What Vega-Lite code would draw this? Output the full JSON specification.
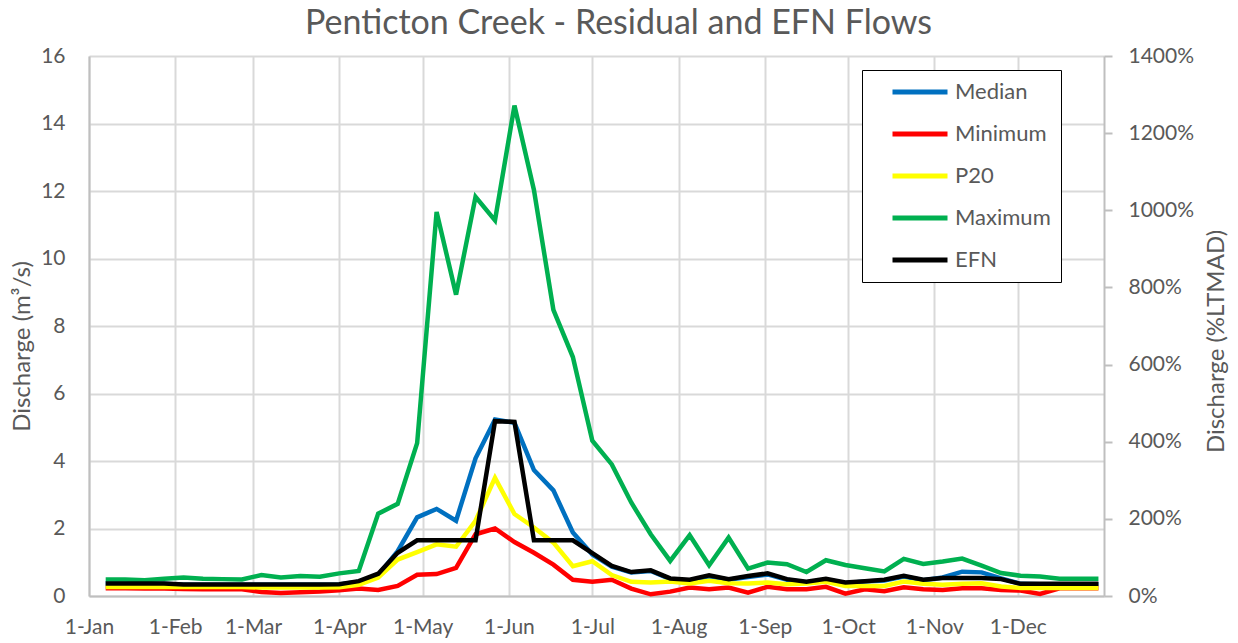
{
  "$schema": "https://vega.github.io/schema/vega-lite/v6.json",
  "width": 1015,
  "height": 540,
  "autosize": {"type": "none"},
  "padding": {"left": 89, "top": 56, "right": 134, "bottom": 47},
  "background": "white",
  "title": {"text": "Penticton Creek - Residual and EFN Flows", "font": "Lato", "fontSize": 34, "fontWeight": "normal", "color": "#595959", "anchor": "middle", "dx": 22, "dy": 46, "offset": 14, "baseline": "alphabetic"},
  "config": {"view": {"stroke": null}},
  "data": {"values": [
    {"date": "2021-01-07", "Median": 0.36, "Minimum": 0.23, "P20": 0.27, "Maximum": 0.49, "EFN": 0.37},
    {"date": "2021-01-14", "Median": 0.36, "Minimum": 0.23, "P20": 0.27, "Maximum": 0.49, "EFN": 0.37},
    {"date": "2021-01-21", "Median": 0.36, "Minimum": 0.22, "P20": 0.27, "Maximum": 0.47, "EFN": 0.37},
    {"date": "2021-01-28", "Median": 0.36, "Minimum": 0.22, "P20": 0.27, "Maximum": 0.51, "EFN": 0.37},
    {"date": "2021-02-04", "Median": 0.33, "Minimum": 0.21, "P20": 0.27, "Maximum": 0.55, "EFN": 0.34},
    {"date": "2021-02-11", "Median": 0.33, "Minimum": 0.2, "P20": 0.27, "Maximum": 0.51, "EFN": 0.34},
    {"date": "2021-02-18", "Median": 0.33, "Minimum": 0.2, "P20": 0.27, "Maximum": 0.5, "EFN": 0.34},
    {"date": "2021-02-25", "Median": 0.33, "Minimum": 0.2, "P20": 0.27, "Maximum": 0.49, "EFN": 0.34},
    {"date": "2021-03-04", "Median": 0.33, "Minimum": 0.12, "P20": 0.25, "Maximum": 0.62, "EFN": 0.34},
    {"date": "2021-03-11", "Median": 0.33, "Minimum": 0.09, "P20": 0.25, "Maximum": 0.55, "EFN": 0.34},
    {"date": "2021-03-18", "Median": 0.33, "Minimum": 0.11, "P20": 0.25, "Maximum": 0.59, "EFN": 0.34},
    {"date": "2021-03-25", "Median": 0.33, "Minimum": 0.13, "P20": 0.25, "Maximum": 0.57, "EFN": 0.34},
    {"date": "2021-04-01", "Median": 0.34, "Minimum": 0.17, "P20": 0.26, "Maximum": 0.67, "EFN": 0.35},
    {"date": "2021-04-08", "Median": 0.42, "Minimum": 0.22, "P20": 0.33, "Maximum": 0.74, "EFN": 0.44},
    {"date": "2021-04-15", "Median": 0.62, "Minimum": 0.18, "P20": 0.55, "Maximum": 2.44, "EFN": 0.66},
    {"date": "2021-04-22", "Median": 1.33, "Minimum": 0.3, "P20": 1.08, "Maximum": 2.73, "EFN": 1.28},
    {"date": "2021-04-29", "Median": 2.33, "Minimum": 0.63, "P20": 1.3, "Maximum": 4.53, "EFN": 1.65},
    {"date": "2021-05-06", "Median": 2.58, "Minimum": 0.65, "P20": 1.53, "Maximum": 11.38, "EFN": 1.65},
    {"date": "2021-05-13", "Median": 2.23, "Minimum": 0.83, "P20": 1.46, "Maximum": 8.93, "EFN": 1.65},
    {"date": "2021-05-20", "Median": 4.08, "Minimum": 1.83, "P20": 2.23, "Maximum": 11.83, "EFN": 1.65},
    {"date": "2021-05-27", "Median": 5.23, "Minimum": 2.0, "P20": 3.5, "Maximum": 11.13, "EFN": 5.18},
    {"date": "2021-06-03", "Median": 5.13, "Minimum": 1.6, "P20": 2.43, "Maximum": 14.53, "EFN": 5.16},
    {"date": "2021-06-10", "Median": 3.73, "Minimum": 1.28, "P20": 2.03, "Maximum": 12.03, "EFN": 1.65},
    {"date": "2021-06-17", "Median": 3.13, "Minimum": 0.93, "P20": 1.58, "Maximum": 8.48, "EFN": 1.65},
    {"date": "2021-06-24", "Median": 1.88, "Minimum": 0.48, "P20": 0.88, "Maximum": 7.08, "EFN": 1.65},
    {"date": "2021-07-01", "Median": 1.23, "Minimum": 0.42, "P20": 1.03, "Maximum": 4.6, "EFN": 1.27},
    {"date": "2021-07-08", "Median": 0.87, "Minimum": 0.48, "P20": 0.62, "Maximum": 3.9, "EFN": 0.89},
    {"date": "2021-07-15", "Median": 0.7, "Minimum": 0.22, "P20": 0.42, "Maximum": 2.77, "EFN": 0.71},
    {"date": "2021-07-22", "Median": 0.74, "Minimum": 0.05, "P20": 0.4, "Maximum": 1.83, "EFN": 0.76},
    {"date": "2021-07-29", "Median": 0.5, "Minimum": 0.13, "P20": 0.43, "Maximum": 1.04, "EFN": 0.52},
    {"date": "2021-08-05", "Median": 0.46, "Minimum": 0.25, "P20": 0.37, "Maximum": 1.8, "EFN": 0.48},
    {"date": "2021-08-12", "Median": 0.58, "Minimum": 0.2, "P20": 0.45, "Maximum": 0.91, "EFN": 0.61},
    {"date": "2021-08-19", "Median": 0.48, "Minimum": 0.25, "P20": 0.38, "Maximum": 1.73, "EFN": 0.5},
    {"date": "2021-08-26", "Median": 0.56, "Minimum": 0.1, "P20": 0.37, "Maximum": 0.81, "EFN": 0.59},
    {"date": "2021-09-02", "Median": 0.64, "Minimum": 0.27, "P20": 0.4, "Maximum": 0.99, "EFN": 0.67},
    {"date": "2021-09-09", "Median": 0.48, "Minimum": 0.2, "P20": 0.35, "Maximum": 0.94, "EFN": 0.5},
    {"date": "2021-09-16", "Median": 0.4, "Minimum": 0.2, "P20": 0.37, "Maximum": 0.71, "EFN": 0.42},
    {"date": "2021-09-23", "Median": 0.49, "Minimum": 0.27, "P20": 0.42, "Maximum": 1.06, "EFN": 0.51},
    {"date": "2021-09-30", "Median": 0.38, "Minimum": 0.07, "P20": 0.3, "Maximum": 0.92, "EFN": 0.4},
    {"date": "2021-10-07", "Median": 0.43, "Minimum": 0.2, "P20": 0.3, "Maximum": 0.82, "EFN": 0.44},
    {"date": "2021-10-14", "Median": 0.46, "Minimum": 0.14, "P20": 0.3, "Maximum": 0.73, "EFN": 0.48},
    {"date": "2021-10-21", "Median": 0.58, "Minimum": 0.26, "P20": 0.43, "Maximum": 1.1, "EFN": 0.6},
    {"date": "2021-10-28", "Median": 0.47, "Minimum": 0.2, "P20": 0.36, "Maximum": 0.95, "EFN": 0.48},
    {"date": "2021-11-04", "Median": 0.55, "Minimum": 0.18, "P20": 0.33, "Maximum": 1.02, "EFN": 0.53},
    {"date": "2021-11-11", "Median": 0.72, "Minimum": 0.23, "P20": 0.36, "Maximum": 1.11, "EFN": 0.53},
    {"date": "2021-11-18", "Median": 0.7, "Minimum": 0.23, "P20": 0.38, "Maximum": 0.9, "EFN": 0.53},
    {"date": "2021-11-25", "Median": 0.52, "Minimum": 0.18, "P20": 0.28, "Maximum": 0.68, "EFN": 0.5},
    {"date": "2021-12-02", "Median": 0.36, "Minimum": 0.16, "P20": 0.24, "Maximum": 0.6, "EFN": 0.36},
    {"date": "2021-12-09", "Median": 0.35, "Minimum": 0.06, "P20": 0.24, "Maximum": 0.58, "EFN": 0.36},
    {"date": "2021-12-16", "Median": 0.35, "Minimum": 0.23, "P20": 0.24, "Maximum": 0.51, "EFN": 0.36},
    {"date": "2021-12-23", "Median": 0.35, "Minimum": 0.23, "P20": 0.24, "Maximum": 0.51, "EFN": 0.36},
    {"date": "2021-12-30", "Median": 0.35, "Minimum": 0.23, "P20": 0.24, "Maximum": 0.51, "EFN": 0.36}
  ]},
  "transform": [{"fold": ["Median", "Minimum", "P20", "Maximum", "EFN"], "as": ["series", "value"]}],
  "encoding": {
    "x": {
      "field": "date", "type": "temporal",
      "scale": {"type": "utc", "domain": [{"year": 2021, "month": 1, "date": 1, "utc": true}, {"year": 2022, "month": 1, "date": 1, "utc": true}]},
      "axis": {
        "title": null,
        "values": [
          {"year": 2021, "month": 1, "date": 1, "utc": true},
          {"year": 2021, "month": 2, "date": 1, "utc": true},
          {"year": 2021, "month": 3, "date": 1, "utc": true},
          {"year": 2021, "month": 4, "date": 1, "utc": true},
          {"year": 2021, "month": 5, "date": 1, "utc": true},
          {"year": 2021, "month": 6, "date": 1, "utc": true},
          {"year": 2021, "month": 7, "date": 1, "utc": true},
          {"year": 2021, "month": 8, "date": 1, "utc": true},
          {"year": 2021, "month": 9, "date": 1, "utc": true},
          {"year": 2021, "month": 10, "date": 1, "utc": true},
          {"year": 2021, "month": 11, "date": 1, "utc": true},
          {"year": 2021, "month": 12, "date": 1, "utc": true}
        ],
        "format": "%-d-%b",
        "grid": true, "gridColor": "#d9d9d9", "gridWidth": 2,
        "ticks": false,
        "domainColor": "#bfbfbf", "domainWidth": 2,
        "labelFont": "Lato", "labelFontSize": 21, "labelColor": "#595959", "labelPadding": 20,
        "labelFlush": false, "labelOverlap": false
      }
    }
  },
  "layer": [
    {
      "mark": {"type": "line", "strokeWidth": 4.5},
      "encoding": {
        "y": {
          "field": "value", "type": "quantitative",
          "scale": {"domain": [0, 16], "nice": false},
          "axis": {
            "title": "Discharge (m³/s)",
            "values": [0, 2, 4, 6, 8, 10, 12, 14, 16],
            "grid": true, "gridColor": "#d9d9d9", "gridWidth": 2,
            "ticks": false,
            "domainColor": "#bfbfbf", "domainWidth": 2,
            "labelFont": "Lato", "labelFontSize": 21, "labelColor": "#595959", "labelPadding": 24,
            "titleFont": "Lato", "titleFontSize": 24, "titleFontWeight": "normal", "titleColor": "#595959",
            "titleAngle": 270, "titleX": -67, "titleY": 290, "titleBaseline": "middle", "titleAlign": "center"
          }
        },
        "color": {
          "field": "series", "type": "nominal",
          "scale": {"domain": ["Median", "Minimum", "P20", "Maximum", "EFN"], "range": ["#0070C0", "#FF0000", "#FFFF00", "#00B050", "#000000"]},
          "legend": {
            "title": null, "orient": "none", "legendX": 773, "legendY": 14, "direction": "vertical",
            "strokeColor": "#000000", "fillColor": "#ffffff", "padding": 10,
            "symbolType": "stroke", "symbolSize": 3025, "symbolStrokeWidth": 5, "symbolOffset": 18,
            "labelFont": "Lato", "labelFontSize": 22, "labelColor": "#595959", "labelOffset": 5,
            "rowPadding": 18, "clipHeight": 24
          }
        }
      }
    },
    {
      "mark": {"type": "line", "opacity": 0},
      "encoding": {
        "y": {
          "field": "value", "type": "quantitative",
          "scale": {"domain": [0, 14], "nice": false},
          "axis": {
            "orient": "right",
            "title": "Discharge (%LTMAD)",
            "values": [0, 2, 4, 6, 8, 10, 12, 14],
            "format": ".0%",
            "grid": false,
            "ticks": true, "tickSize": 8, "tickColor": "#bfbfbf", "tickWidth": 2,
            "domainColor": "#bfbfbf", "domainWidth": 2,
            "labelFont": "Lato", "labelFontSize": 21, "labelColor": "#595959", "labelPadding": 16,
            "titleFont": "Lato", "titleFontSize": 24, "titleFontWeight": "normal", "titleColor": "#595959",
            "titleAngle": 270, "titleX": 112, "titleY": 285, "titleBaseline": "middle", "titleAlign": "center"
          }
        }
      }
    }
  ],
  "resolve": {"scale": {"y": "independent"}}
}
